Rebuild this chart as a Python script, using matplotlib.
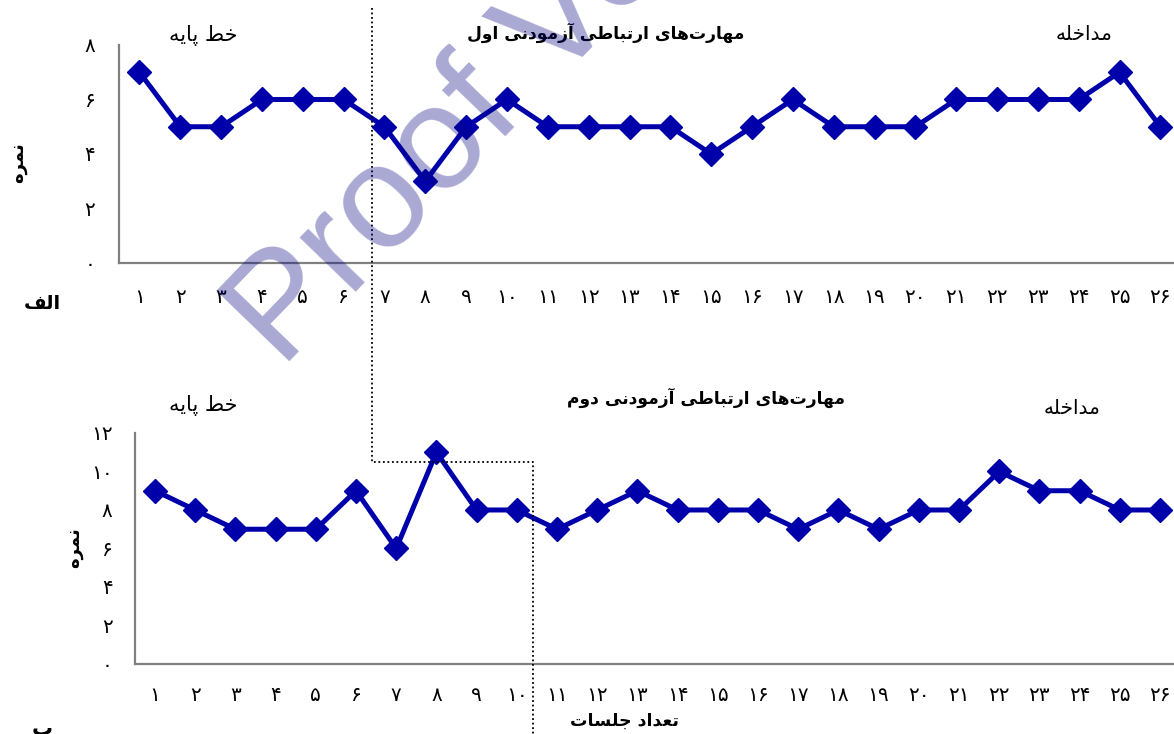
import matplotlib
matplotlib.use("Agg")
import matplotlib.pyplot as plt
from matplotlib.lines import Line2D

# data
sessions = list(range(1, 27))
scores_1 = [7, 5, 5, 6, 6, 6, 5, 3, 5, 6, 5, 5, 5, 5, 4, 5, 6, 5, 5, 5, 6, 6, 6, 6, 7, 5]
scores_2 = [9, 8, 7, 7, 7, 9, 6, 11, 8, 8, 7, 8, 9, 8, 8, 8, 7, 8, 7, 8, 8, 10, 9, 9, 8, 8]
yticks_1 = [0, 2, 4, 6, 8]
yticks_2 = [0, 2, 4, 6, 8, 10, 12]

title_1 = "مهارت‌های ارتباطی آزمودنی اول"
title_2 = "مهارت‌های ارتباطی آزمودنی دوم"
baseline_txt = "خط پایه"
treat_txt = "مداخله"
ylabel_txt = "نمره"
xlabel_txt = "تعداد جلسات"
panel_a = "الف"
panel_b = "ب"

# --- minimal arabic/persian shaping (matplotlib has no bidi / joining) ---
FORMS = {
    "\u0627": (0xFE8D, 0xFE8E), "\u0622": (0xFE81, 0xFE82),
    "\u062F": (0xFEA9, 0xFEAA), "\u0631": (0xFEAD, 0xFEAE),
    "\u0632": (0xFEAF, 0xFEB0), "\u0648": (0xFEED, 0xFEEE),
    "\u0628": (0xFE8F, 0xFE90, 0xFE91, 0xFE92),
    "\u067E": (0xFB56, 0xFB57, 0xFB58, 0xFB59),
    "\u062A": (0xFE95, 0xFE96, 0xFE97, 0xFE98),
    "\u062C": (0xFE9D, 0xFE9E, 0xFE9F, 0xFEA0),
    "\u062E": (0xFEA5, 0xFEA6, 0xFEA7, 0xFEA8),
    "\u0633": (0xFEB1, 0xFEB2, 0xFEB3, 0xFEB4),
    "\u0637": (0xFEC1, 0xFEC2, 0xFEC3, 0xFEC4),
    "\u0639": (0xFEC9, 0xFECA, 0xFECB, 0xFECC),
    "\u0641": (0xFED1, 0xFED2, 0xFED3, 0xFED4),
    "\u0644": (0xFEDD, 0xFEDE, 0xFEDF, 0xFEE0),
    "\u0645": (0xFEE1, 0xFEE2, 0xFEE3, 0xFEE4),
    "\u0646": (0xFEE5, 0xFEE6, 0xFEE7, 0xFEE8),
    "\u0647": (0xFEE9, 0xFEEA, 0xFEEB, 0xFEEC),
    "\u06CC": (0xFBFC, 0xFBFD, 0xFBFE, 0xFBFF),
}


def shape(s):
    out = []
    for i, ch in enumerate(s):
        if ch not in FORMS:
            if ch != "\u200c":
                out.append(ch)
            continue
        f = FORMS[ch]
        prev = s[i - 1] if i > 0 else ""
        nxt = s[i + 1] if i + 1 < len(s) else ""
        jp = prev in FORMS and len(FORMS[prev]) == 4
        jn = len(f) == 4 and nxt in FORMS
        if jp and jn:
            out.append(chr(f[3]))
        elif jp:
            out.append(chr(f[1]))
        elif jn:
            out.append(chr(f[2]))
        else:
            out.append(chr(f[0]))
    return "".join(reversed(out))


def fa_num(n):
    return "".join("۰۱۲۳۴۵۶۷۸۹"[int(d)] for d in str(n))


plt.rcParams["font.family"] = ["DejaVu Sans"]
blue = "#0000AA"

fig = plt.figure(figsize=(11.74, 7.34), dpi=100)
ax1 = fig.add_axes([0.1014, 0.6417, 0.9044, 0.2970])
ax2 = fig.add_axes([0.1149, 0.0954, 0.8903, 0.3147])

for ax, ys, yt in [(ax1, scores_1, yticks_1), (ax2, scores_2, yticks_2)]:
    ax.plot(sessions, ys, color=blue, lw=3.6, marker="D", ms=12.5, zorder=3)
    ax.set_xlim(0.5, 26.5)
    ax.set_ylim(yt[0], yt[-1])
    ax.set_xticks(sessions)
    ax.set_xticklabels([fa_num(s) for s in sessions], fontsize=14.5)
    ax.set_yticks(yt)
    ax.set_yticklabels([fa_num(v) for v in yt], fontsize=14.5)
    ax.tick_params(length=0)
    for side in ["top", "right"]:
        ax.spines[side].set_visible(False)
    for side in ["left", "bottom"]:
        ax.spines[side].set_color("#808080")
        ax.spines[side].set_linewidth(1.6)
    ax.set_facecolor("none")

ax1.tick_params(axis="x", pad=18)
ax1.tick_params(axis="y", pad=17)
ax2.tick_params(axis="x", pad=16)
ax2.tick_params(axis="y", pad=16)

W, H = 1174.0, 734.0


def fx(px):
    return px / W


def fy(py):
    return 1 - py / H


# phase change dotted line
fig.add_artist(Line2D([fx(372), fx(372), fx(533), fx(533)],
                      [fy(8), fy(462), fy(462), fy(734)],
                      color="black", lw=1.3, ls=(0, (1, 1.5))))

fig.text(fx(203), fy(35), shape(baseline_txt), ha="center", va="center", fontsize=15)
fig.text(fx(203), fy(406), shape(baseline_txt), ha="center", va="center", fontsize=15)
fig.text(fx(1084), fy(34), shape(treat_txt), ha="center", va="center", fontsize=14.5)
fig.text(fx(1072), fy(408), shape(treat_txt), ha="center", va="center", fontsize=14.5)
fig.text(fx(606), fy(33), shape(title_1), ha="center", va="center", fontsize=12.3, fontweight="bold")
fig.text(fx(706), fy(398), shape(title_2), ha="center", va="center", fontsize=12.3, fontweight="bold")
fig.text(fx(18), fy(163), shape(ylabel_txt), ha="center", va="center", fontsize=13,
         fontweight="bold", rotation=90)
fig.text(fx(74), fy(548), shape(ylabel_txt), ha="center", va="center", fontsize=13,
         fontweight="bold", rotation=90)
fig.text(fx(42), fy(303), shape(panel_a), ha="center", va="center", fontsize=14, fontweight="bold")
fig.text(fx(42), fy(729), shape(panel_b), ha="center", va="center", fontsize=15, fontweight="bold")
fig.text(fx(624), fy(721), shape(xlabel_txt), ha="center", va="center", fontsize=12.5, fontweight="bold")

# watermark
fig.text(fx(281), fy(369), "Proof Version", family="Liberation Sans", fontsize=106,
         color="#000081", alpha=0.34, rotation=46, rotation_mode="anchor",
         ha="left", va="baseline", zorder=10)

fig.savefig("out.png", dpi=100)
